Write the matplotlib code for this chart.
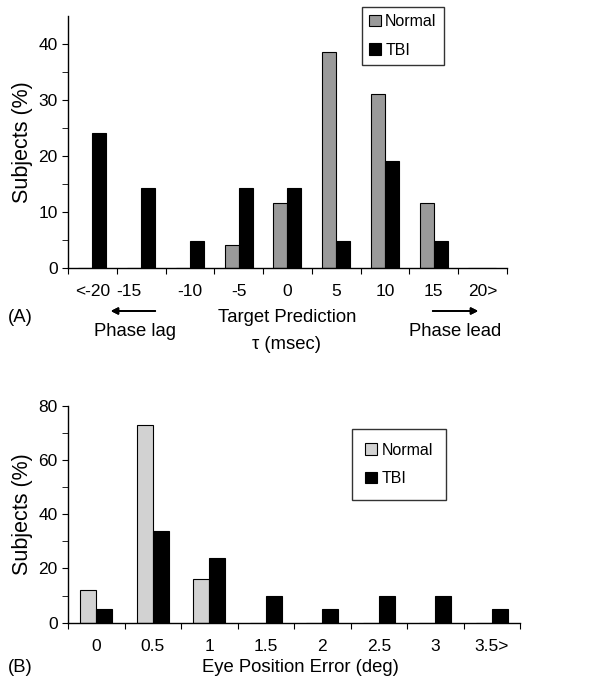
import matplotlib.pyplot as plt
import numpy as np

plt.rcParams['font.family'] = ['Liberation Sans', 'DejaVu Sans']

# Panel A data: target prediction tau (msec)
tau_labels = ['<-20', '-15', '-10', '-5', '0', '5', '10', '15', '20>']
tau_normal = [0, 0, 0, 4, 11.5, 38.5, 31, 11.5, 0]
tau_tbi = [24, 14.3, 4.8, 14.3, 14.3, 4.8, 19, 4.8, 0]

# Panel B data: eye position error (deg)
err_labels = ['0', '0.5', '1', '1.5', '2', '2.5', '3', '3.5>']
err_normal = [12, 73, 16, 0, 0, 0, 0, 0]
err_tbi = [5, 34, 24, 10, 5, 10, 10, 5]

fig = plt.figure(figsize=(6.04, 6.9), dpi=100)
axA = fig.add_axes([0.1126, 0.612, 0.7264, 0.365])
axB = fig.add_axes([0.1126, 0.0976, 0.7484, 0.314])

w = 0.286


def draw_panel(ax, labels, normal, tbi, normal_color, ymax, ystep):
    x = np.arange(len(labels))
    ax.bar(x - w / 2, normal, w, color=normal_color, edgecolor='black', linewidth=0.8, label='Normal')
    ax.bar(x + w / 2, tbi, w, color='black', edgecolor='black', linewidth=0.8, label='TBI')
    ax.set_xlim(-0.5, len(labels) - 0.5)
    ax.set_ylim(0, ymax)
    for s in ['top', 'right']:
        ax.spines[s].set_visible(False)
    ax.spines['left'].set_linewidth(1.0)
    ax.spines['bottom'].set_linewidth(1.0)
    # category boundaries as major x ticks, labels at category centres
    ax.set_xticks(np.arange(len(labels) + 1) - 0.5)
    ax.set_xticklabels([])
    ax.set_xticks(x, minor=True)
    ax.set_xticklabels(labels, minor=True, fontsize=12.5)
    ax.tick_params(axis='x', which='major', length=4, direction='out')
    ax.tick_params(axis='x', which='minor', length=0, pad=12)
    ax.set_yticks(np.arange(0, ymax + 1, ystep))
    ax.set_yticks(np.arange(ystep / 2, ymax, ystep), minor=True)
    ax.tick_params(axis='y', which='both', length=4, direction='out', labelsize=12.5)
    ax.set_ylabel('Subjects (%)', fontsize=15.5, labelpad=4)


draw_panel(axA, tau_labels, tau_normal, tau_tbi, '#9a9a9a', 45, 10)
draw_panel(axB, err_labels, err_normal, err_tbi, '#d2d2d2', 80, 20)

# shift the crowded "-15" label left as in the original
for lab in axA.get_xticklabels(minor=True):
    if lab.get_text() == '-15':
        lab.set_horizontalalignment('right')

legA = axA.legend(loc='upper left', bbox_to_anchor=(0.67, 1.036), fontsize=11.5,
                  frameon=True, fancybox=False, edgecolor='black', handlelength=0.75,
                  handleheight=0.75, handletextpad=0.25, borderpad=0.45, labelspacing=0.85,
                  borderaxespad=0)
legA.get_frame().set_linewidth(1.0)
legB = axB.legend(loc='upper left', bbox_to_anchor=(0.628, 0.894), fontsize=11.5,
                  frameon=True, fancybox=False, edgecolor='black', handlelength=0.75,
                  handleheight=0.75, handletextpad=0.25, borderpad=0.85, labelspacing=0.85,
                  borderaxespad=0)
legB.get_frame().set_linewidth(1.0)

# panel A annotations
fs = 13.3
fig.text(8 / 604, 1 - 318 / 690, '(A)', fontsize=fs, va='center')
fig.text(287 / 604, 1 - 318 / 690, 'Target Prediction', fontsize=fs, ha='center', va='center')
fig.text(287 / 604, 1 - 344 / 690, 'τ (msec)', fontsize=fs, ha='center', va='center')
fig.text(135 / 604, 1 - 331 / 690, 'Phase lag', fontsize=fs, ha='center', va='center')
fig.text(455 / 604, 1 - 331 / 690, 'Phase lead', fontsize=fs, ha='center', va='center')
fig.add_artist(plt.annotate('', xy=(108 / 604, 1 - 311 / 690), xytext=(158 / 604, 1 - 311 / 690),
                            xycoords='figure fraction',
                            arrowprops=dict(arrowstyle='-|>', color='black', lw=1.3)))
fig.add_artist(plt.annotate('', xy=(481 / 604, 1 - 311 / 690), xytext=(430 / 604, 1 - 311 / 690),
                            xycoords='figure fraction',
                            arrowprops=dict(arrowstyle='-|>', color='black', lw=1.3)))

# panel B annotations
fig.text(8 / 604, 1 - 667 / 690, '(B)', fontsize=fs, va='center')
fig.text(300 / 604, 1 - 668 / 690, 'Eye Position Error (deg)', fontsize=fs, ha='center', va='center')

fig.savefig('out.png', dpi=100)
